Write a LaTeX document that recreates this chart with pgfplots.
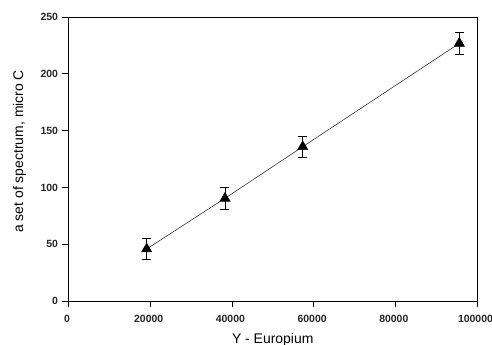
\documentclass[border=0pt]{standalone}
\usepackage{pgfplots}
\pgfplotsset{compat=1.18}
\usepackage{fontspec}
\setmainfont{Liberation Sans}
\usetikzlibrary{calc}
\begin{document}
\begin{tikzpicture}
\begin{axis}[
  scale only axis,
  width=408.5bp, height=284bp,
  xmin=0, xmax=100000, ymin=0, ymax=250,
  xtick={0,20000,40000,60000,80000,100000},
  xticklabels={0,20000,40000,60000,80000,100000},
  ytick={0,50,100,150,200,250},
  yticklabels={0,50,100,150,200,250},
  scaled ticks=false,
  tick label style={font=\fontsize{10.5}{12}\selectfont\bfseries, text=black!85},
  xticklabel style={yshift=-5bp, xshift=-1.5bp},
  yticklabel style={xshift=-1bp},
  tick align=outside,
  major tick length=6bp,
  xtick pos=bottom, ytick pos=left,
  axis line style={black, line width=0.8pt},
  tick style={black, line width=0.8pt},
  xlabel={Y - Europium},
  ylabel={a set of spectrum, micro C},
  label style={font=\fontsize{14}{16}\selectfont},
  xlabel style={at={(axis description cs:0.5,-0.137)}, anchor=center},
  ylabel style={at={(axis description cs:-0.12,0.527)}, anchor=center},
  clip=false,
]
\addplot[black!80, line width=0.6pt, mark=triangle*, mark size=5.8bp,
  mark options={solid, fill=black, draw=black},
  error bars/.cd, y dir=both, y explicit,
  error bar style={black, line width=0.7pt},
  error mark options={black, rotate=90, mark size=4.5bp, line width=0.7pt}]
  coordinates {
  (19140,45.8) +- (0,9.5)
  (38310,90.4) +- (0,9.6)
  (57330,135.8) +- (0,9.3)
  (95670,226.8) +- (0,9.4)
  };
\coordinate (sw) at (rel axis cs:0,0);
\end{axis}
\pgfresetboundingbox
\useasboundingbox ($(sw)+(-68.5bp,-44bp)$) rectangle ($(sw)+(423.5bp,301bp)$);
\end{tikzpicture}
\end{document}
